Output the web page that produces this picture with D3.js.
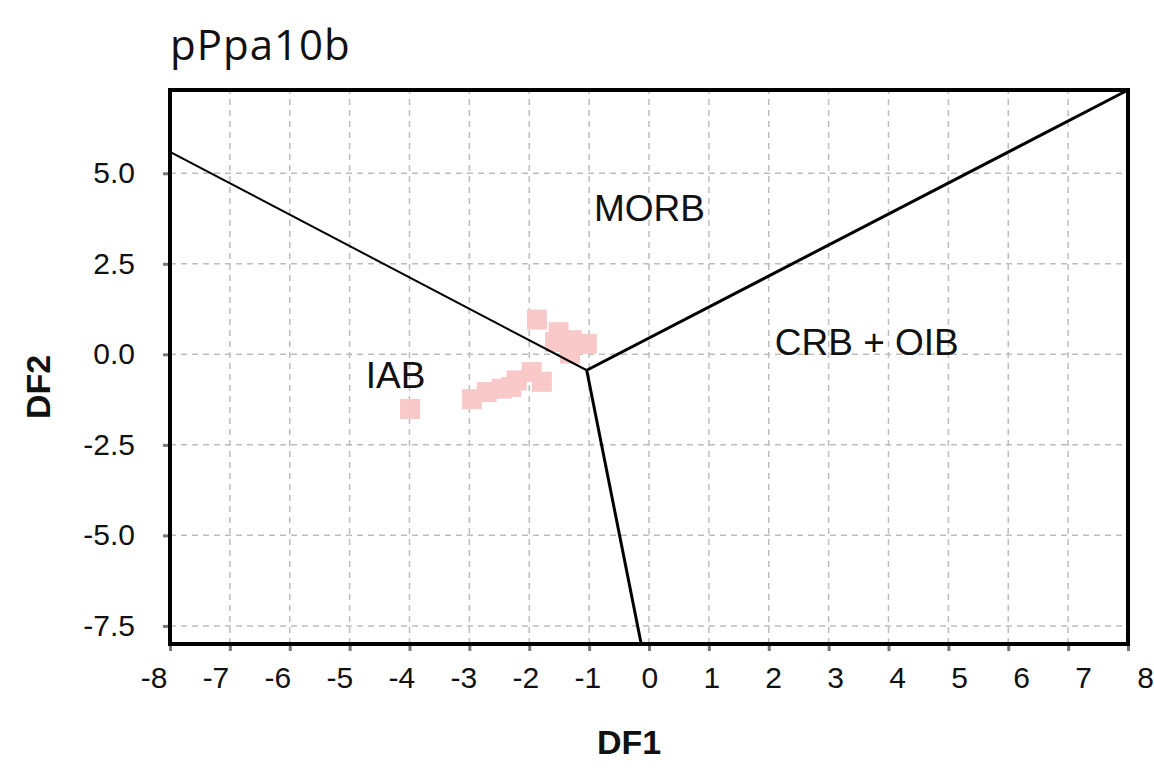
<!DOCTYPE html>
<html>
<head>
<meta charset="utf-8">
<script src="https://cdn.jsdelivr.net/npm/d3@7"></script>
<style>
  body { margin: 0; background: #fff; }
  text { font-family: "Liberation Sans", Arial, sans-serif; fill: #111; }
</style>
</head>
<body>
<div id="chart"></div>
<script>
// sample points (DF1, DF2)
var df1 = [-1.87, -1.51, -1.57, -1.29, -1.04, -1.32, -2.96, -2.71, -2.46, -2.21, -1.96, -1.79, -3.99, -2.30];
var df2 = [0.96, 0.61, 0.34, 0.39, 0.29, 0.02, -1.24, -1.04, -0.95, -0.72, -0.49, -0.76, -1.51, -0.90];

// field boundaries
var junction = [-1.04, -0.44];
var boundX = [-8, 8, -0.13];
var boundY = [5.59, 7.3, -8];

var xTicks = [-8, -7, -6, -5, -4, -3, -2, -1, 0, 1, 2, 3, 4, 5, 6, 7, 8];
var yTicks = [-7.5, -5, -2.5, 0, 2.5, 5];

var fieldNames = ["MORB", "CRB + OIB", "IAB"];
var fieldX = [-0.92, 2.1, -4.73];
var fieldY = [3.69, -0.03, -0.94];

var W = 1154, H = 775;
var margin = {left: 170, right: 26, top: 90, bottom: 131};

var svg = d3.select("#chart").append("svg")
    .attr("width", W)
    .attr("height", H);

var x = d3.scaleLinear().domain([-8, 8]).range([margin.left, W - margin.right]);
var y = d3.scaleLinear().domain([-8, 7.3]).range([H - margin.bottom, margin.top]);
// the x tick labels sit on a slightly wider spread than the ticks
var xLab = d3.scaleLinear().domain([-8, 8]).range([153.5, 1145]);

var hyph = function(f){ return function(d){ return f(d).replace("\u2212", "-"); }; };

// grid
svg.append("g").selectAll("line").data(xTicks.slice(1, -1)).enter().append("line")
    .attr("x1", function(d){return x(d);})
    .attr("x2", function(d){return x(d);})
    .attr("y1", y(-8))
    .attr("y2", y(7.3))
    .attr("stroke", "#bdbdbd")
    .attr("stroke-width", 1.5)
    .attr("stroke-dasharray", "6,5");

svg.append("g").selectAll("line").data(yTicks).enter().append("line")
    .attr("x1", x(-8))
    .attr("x2", x(8))
    .attr("y1", function(d){return y(d);})
    .attr("y2", function(d){return y(d);})
    .attr("stroke", "#bdbdbd")
    .attr("stroke-width", 1.5)
    .attr("stroke-dasharray", "6,5");

// axes
var xAxis = svg.append("g")
    .attr("transform", "translate(0," + y(-8) + ")")
    .call(d3.axisBottom(x).tickValues(xTicks).tickSize(7).tickPadding(16).tickFormat(hyph(d3.format("d"))));
var yAxis = svg.append("g")
    .attr("transform", "translate(" + x(-8) + ",0)")
    .call(d3.axisLeft(y).tickValues(yTicks).tickSize(7).tickPadding(28).tickFormat(hyph(d3.format(".1f"))));

[xAxis, yAxis].forEach(function(a){
  a.select(".domain").remove();
  a.selectAll(".tick line").attr("stroke", "#777").attr("stroke-width", 3);
  a.selectAll(".tick text").attr("font-size", 30).attr("fill", "#111")
    .style("font-family", "'Liberation Sans', Arial, sans-serif");
});
xAxis.selectAll(".tick text").attr("x", function(d){return xLab(d) - x(d);});

// points
svg.append("g").selectAll("rect").data(df1).enter().append("rect")
    .attr("x", function(d){return x(d) - 10;})
    .attr("y", function(d, i){return y(df2[i]) - 10;})
    .attr("width", 20)
    .attr("height", 20)
    .attr("fill", "#f9c8c8");

// boundary lines
svg.append("g").selectAll("line").data(boundX).enter().append("line")
    .attr("x1", x(junction[0]))
    .attr("y1", y(junction[1]))
    .attr("x2", function(d){return x(d);})
    .attr("y2", function(d, i){return y(boundY[i]);})
    .attr("stroke", "#000")
    .attr("stroke-width", function(d, i){return i == 0 ? 2 : 3;});

// frame
svg.append("rect")
    .attr("x", x(-8))
    .attr("y", y(7.3))
    .attr("width", x(8) - x(-8))
    .attr("height", y(-8) - y(7.3))
    .attr("fill", "none")
    .attr("stroke", "#000")
    .attr("stroke-width", 4);

// field labels
svg.append("g").selectAll("text").data(fieldNames).enter().append("text")
    .attr("x", function(d, i){return x(fieldX[i]);})
    .attr("y", function(d, i){return y(fieldY[i]);})
    .attr("font-size", 37)
    .text(function(d){return d;});

// titles
svg.append("text")
    .attr("x", 170)
    .attr("y", 60)
    .attr("font-size", 42)
    .attr("letter-spacing", 1)
    .style("font-family", "'Open Sans', sans-serif")
    .text("pPpa10b");

svg.append("text")
    .attr("x", x(0) - 20)
    .attr("y", 754)
    .attr("text-anchor", "middle")
    .attr("font-size", 34)
    .attr("font-weight", "bold")
    .text("DF1");

svg.append("text")
    .attr("transform", "translate(50," + y(-0.9) + ") rotate(-90)")
    .attr("text-anchor", "middle")
    .attr("font-size", 34)
    .attr("font-weight", "bold")
    .text("DF2");
</script>
</body>
</html>
